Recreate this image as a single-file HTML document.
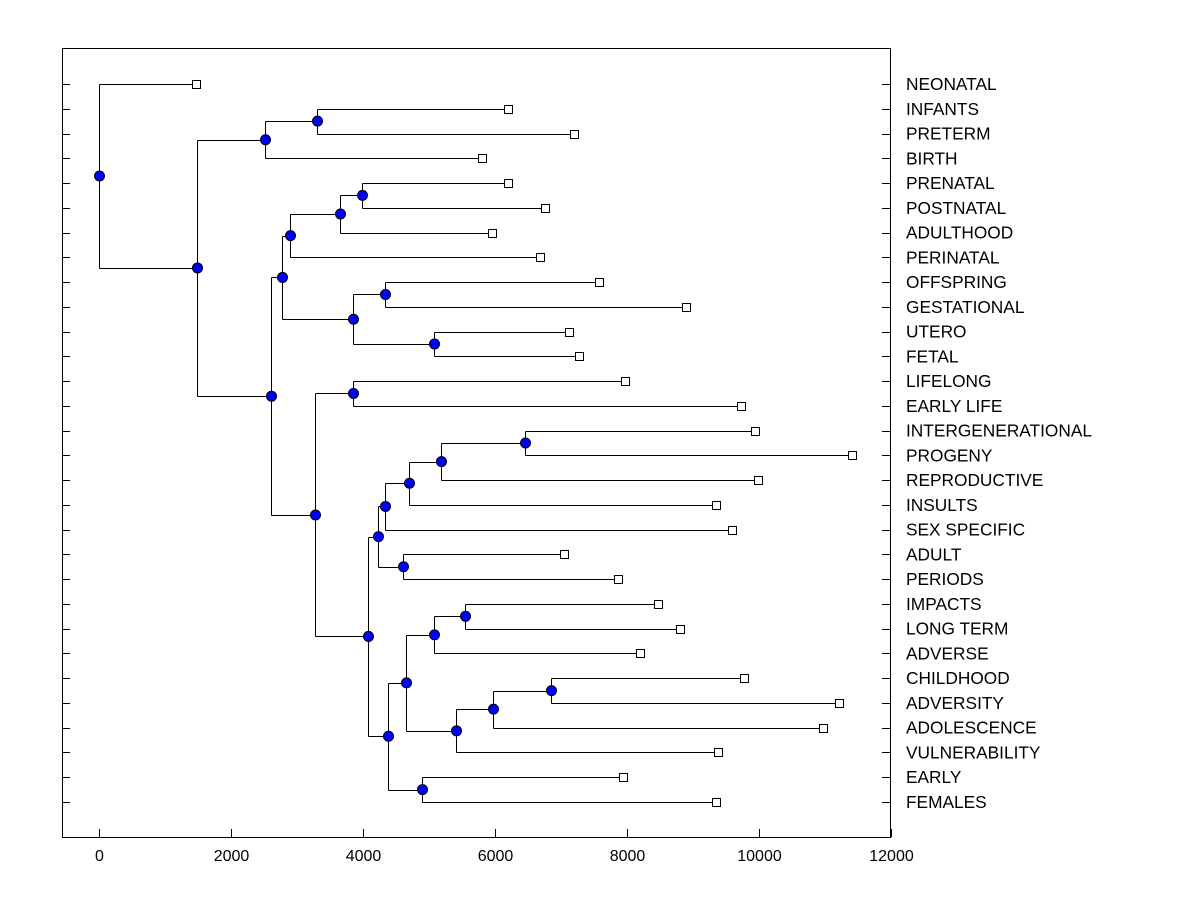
<!DOCTYPE html>
<html><head><meta charset="utf-8"><style>
body{margin:0;background:#fff;}
svg text{font-family:"Liberation Sans",Arial,sans-serif;}
</style></head><body>
<svg id="chart" width="1200" height="900" xmlns="http://www.w3.org/2000/svg">
<rect x="62.5" y="48.5" width="828" height="789" fill="none" stroke="#000" stroke-width="1"/>
<g id="marks"></g>
</svg>
<script>
const leafNames=["NEONATAL","INFANTS","PRETERM","BIRTH","PRENATAL","POSTNATAL","ADULTHOOD","PERINATAL","OFFSPRING","GESTATIONAL","UTERO","FETAL","LIFELONG","EARLY LIFE","INTERGENERATIONAL","PROGENY","REPRODUCTIVE","INSULTS","SEX SPECIFIC","ADULT","PERIODS","IMPACTS","LONG TERM","ADVERSE","CHILDHOOD","ADVERSITY","ADOLESCENCE","VULNERABILITY","EARLY","FEMALES"];
const leafValues=[1470,6200,7200,5800,6200,6760,5950,6680,7580,8890,7120,7270,7970,9730,9940,11410,9980,9350,9590,7050,7860,8470,8800,8200,9770,11210,10970,9380,7940,9350];
const nodeNames=["D","B","J","I","G","K","L","H","E","M","U","T","S","Q","R","O","Z","X","AB","AA","Y","V","W","P","N","F","C","A","root"];
const nodeHeights=[3300,2520,3990,3650,2900,4330,5080,3850,2780,3850,6450,5180,4700,4330,4600,4220,5550,5080,6850,5970,5410,4650,4900,4380,4070,3270,2600,1480,0];
const nodeChildren=[["INFANTS","PRETERM"],["D","BIRTH"],["PRENATAL","POSTNATAL"],["J","ADULTHOOD"],["I","PERINATAL"],["OFFSPRING","GESTATIONAL"],["UTERO","FETAL"],["K","L"],["G","H"],["LIFELONG","EARLY LIFE"],["INTERGENERATIONAL","PROGENY"],["U","REPRODUCTIVE"],["T","INSULTS"],["S","SEX SPECIFIC"],["ADULT","PERIODS"],["Q","R"],["IMPACTS","LONG TERM"],["Z","ADVERSE"],["CHILDHOOD","ADVERSITY"],["AB","ADOLESCENCE"],["AA","VULNERABILITY"],["X","Y"],["EARLY","FEMALES"],["V","W"],["O","P"],["M","N"],["E","F"],["B","C"],["NEONATAL","A"]];
const xTicks=[0,2000,4000,6000,8000,10000,12000];

const NS="http://www.w3.org/2000/svg";
const g=document.getElementById("marks");
const xScale=v=>99+v*0.066;
const yScale=i=>84+i*(802-84)/(leafNames.length-1);
function mk(tag,attrs){const e=document.createElementNS(NS,tag);for(const k in attrs)e.setAttribute(k,attrs[k]);g.appendChild(e);return e;}
const pos={};
leafNames.forEach((n,i)=>{pos[n]={x:xScale(leafValues[i]),y:yScale(i)};});
nodeNames.forEach((n,i)=>{
  const a=pos[nodeChildren[i][0]],b=pos[nodeChildren[i][1]];
  const x=Math.round(xScale(nodeHeights[i]))+0.5;
  pos[n]={x:x,y:(a.y+b.y)/2};
  [a,b].forEach(c=>{
    const l=mk("line",{x1:x,y1:Math.round(c.y)+0.5,x2:Math.round(c.x)+0.5,y2:Math.round(c.y)+0.5,stroke:"#000","stroke-width":1});
    
    
  });
  const v=mk("line",{x1:x,y1:Math.round(a.y)+0.5,x2:x,y2:Math.round(b.y)+0.5,stroke:"#000","stroke-width":1});
  
  
});
nodeNames.forEach(n=>{
  const c=mk("circle",{cx:pos[n].x,cy:pos[n].y,r:5,fill:"#0000ff",stroke:"#000","stroke-width":1});
  
  
});
leafNames.forEach((n,i)=>{
  const p=pos[n];const y=Math.round(p.y)+0.5;
  const s=mk("rect",{x:Math.round(p.x)-3.5,y:y-4,width:8,height:8,fill:"#fff",stroke:"#000","stroke-width":1});
  
  
  const t1=mk("line",{x1:62,y1:y,x2:70,y2:y,stroke:"#000"});
  
  
  const t2=mk("line",{x1:882,y1:y,x2:890,y2:y,stroke:"#000"});
  
  
  const t=mk("text",{x:906,y:p.y+6,"font-size":"17.3px",fill:"#000"});
  t.textContent=n;
  
  
});
xTicks.forEach(v=>{
  const x=Math.round(xScale(v))+0.5;
  const l=mk("line",{x1:x,y1:829,x2:x,y2:837,stroke:"#000"});
  
  
  const t=mk("text",{x:x,y:861,"font-size":"16px","text-anchor":"middle",fill:"#000"});
  t.textContent=v;
  
  
});
</script>
</body></html>
